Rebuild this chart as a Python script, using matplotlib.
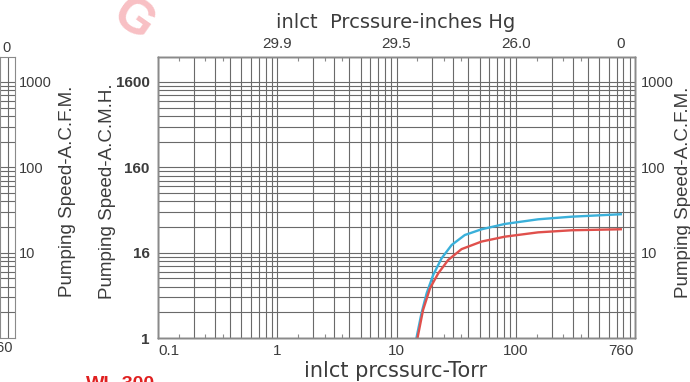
import numpy as np
import matplotlib.pyplot as plt
from matplotlib.ticker import FixedLocator, LogLocator, NullFormatter, NullLocator

plt.rcParams['font.family'] = ['Liberation Sans', 'DejaVu Sans']

# inlet pressure (Torr) vs pumping speed (A.C.F.M.)
torr_blue = [14.7, 16.2, 17.9, 20.3, 23.9, 29.0, 37.4, 51.7, 81.1, 154, 294, 760]
acfm_blue = [1.0, 1.95, 3.34, 5.48, 8.6, 12.3, 16.1, 18.8, 21.7, 24.6, 26.4, 28.2]
torr_red = [15.0, 16.7, 19.1, 22.4, 27.1, 35.1, 51.7, 81.1, 154, 294, 760]
acfm_red = [1.0, 2.13, 3.83, 5.73, 8.2, 11.0, 13.5, 15.4, 17.3, 18.3, 18.8]

torr_ticks = [0.1, 1, 10, 100, 760]
torr_labels = ['0.1', '1', '10', '100', '760']
hg_ticks = [1, 10, 100, 760]
hg_labels = ['29.9', '29.5', '26.0', '0']
acmh_ticks = [1, 10, 100, 1000]
acmh_labels = ['1', '16', '160', '1600']
acfm_ticks = [10, 100, 1000]
acfm_labels = ['10', '100', '1000']

W, H = 690, 382
grid_c = '#6a6a6a'
spine_c = '#8a8a8a'
txt_c = '#3c3c3c'

fig = plt.figure(figsize=(W / 100, H / 100), dpi=100)


def log_grid(a, xdecades, ydecades):
    for d in xdecades:
        for k in range(1, 10):
            a.axvline(d * k, color=grid_c, lw=0.8, zorder=1)
    for d in ydecades:
        for k in range(2, 11):
            a.axhline(d * k, color=grid_c, lw=0.8, zorder=1)


# main chart
ax = fig.add_axes([158 / W, 44 / H, 477 / W, 281 / H])
ax.set_xscale('log')
ax.set_yscale('log')
ax.set_xlim(0.1, 1000)
ax.set_ylim(1, 1963)
log_grid(ax, [0.1, 1, 10, 100], [1, 10, 100])

ax.plot(torr_blue, acfm_blue, color='#3ab0da', lw=1.7, zorder=3)
ax.plot(torr_red, acfm_red, color='#e0504c', lw=1.7, zorder=3)

axr = ax.twinx()
axr.set_yscale('log')
axr.set_ylim(ax.get_ylim())
axt = ax.twiny()
axt.set_xscale('log')
axt.set_xlim(ax.get_xlim())

ax.xaxis.set_major_locator(FixedLocator(torr_ticks))
ax.set_xticklabels(torr_labels)
ax.get_xticklabels()[0].set_ha('left')
ax.xaxis.set_minor_locator(LogLocator(base=10, subs=(1.5, 2.5, 3.5)))
ax.xaxis.set_minor_formatter(NullFormatter())
ax.tick_params(axis='x', which='major', length=0, pad=4, labelsize=11, labelcolor=txt_c)
ax.tick_params(axis='x', which='minor', direction='in', length=3, width=0.8,
               color=spine_c, bottom=True, top=True)

ax.yaxis.set_major_locator(FixedLocator(acmh_ticks))
ax.set_yticklabels(acmh_labels, fontweight='bold')
ax.yaxis.set_minor_locator(NullLocator())
ax.tick_params(axis='y', which='both', length=0, pad=6, labelsize=11, labelcolor=txt_c)

axr.yaxis.set_major_locator(FixedLocator(acfm_ticks))
axr.set_yticklabels(acfm_labels)
axr.yaxis.set_minor_locator(NullLocator())
axr.tick_params(axis='y', which='both', length=0, pad=4, labelsize=10.5, labelcolor=txt_c)

axt.xaxis.set_major_locator(FixedLocator(hg_ticks))
axt.set_xticklabels(hg_labels)
axt.xaxis.set_minor_locator(NullLocator())
axt.tick_params(axis='x', which='both', length=0, pad=4, labelsize=11, labelcolor=txt_c)

for a in (ax, axr, axt):
    for s in a.spines.values():
        s.set_color(spine_c)
        s.set_linewidth(1)

fig.text(396 / W, 1 - 22 / H, 'inlct  Prcssure-inches Hg', ha='center', va='center',
         fontsize=14, color=txt_c, family='DejaVu Sans')
fig.text(396 / W, 1 - 371 / H, 'inlct prcssurc-Torr', ha='center', va='center',
         fontsize=15, color=txt_c, family='DejaVu Sans')
fig.text(108 / W, 1 - 191 / H, 'Pumping Speed-A.C.M.H.', rotation=90, ha='center',
         va='center', fontsize=13.5, color=txt_c)
fig.text(68 / W, 1 - 191 / H, 'Pumping Speed-A.C.F.M.', rotation=90, ha='center',
         va='center', fontsize=13.5, color=txt_c)
fig.text(683 / W, 1 - 192 / H, 'Pumping Speed-A.C.F.M.', rotation=90, ha='center',
         va='center', fontsize=13.5, color=txt_c)

# cut-off strip of the neighbouring chart on the left edge
axs = fig.add_axes([0, 44 / H, 15 / W, 281 / H])
axs.set_xscale('log')
axs.set_yscale('log')
axs.set_xlim(800, 1000)
axs.set_ylim(1, 1963)
axs.axvline(900, color=grid_c, lw=0.8)
for k in range(2, 11):
    for d in [1, 10, 100]:
        axs.axhline(d * k, color=grid_c, lw=0.8)
axs.yaxis.tick_right()
axs.yaxis.set_major_locator(FixedLocator(acfm_ticks))
axs.set_yticklabels(acfm_labels)
axs.yaxis.set_minor_locator(NullLocator())
axs.xaxis.set_major_locator(NullLocator())
axs.xaxis.set_minor_locator(NullLocator())
axs.tick_params(axis='y', length=0, pad=3, labelsize=10.5, labelcolor=txt_c)
for s in axs.spines.values():
    s.set_color(spine_c)
fig.text(7 / W, 1 - 48 / H, '0', ha='center', va='center', fontsize=10.5, color=txt_c)
fig.text(13 / W, 1 - 348 / H, '760', ha='right', va='center', fontsize=10.5, color=txt_c)

# logo watermark and cut-off model name
fig.text(133 / W, 1 - 20 / H, 'G', ha='center', va='center', fontsize=36,
         fontweight='bold', color='#f8c0c4', rotation=-35)
fig.text(86 / W, 1 - 376 / H, 'WL-300', ha='left', va='top', fontsize=14,
         fontweight='bold', color='#e02020')

fig.savefig('out.png', dpi=100)
